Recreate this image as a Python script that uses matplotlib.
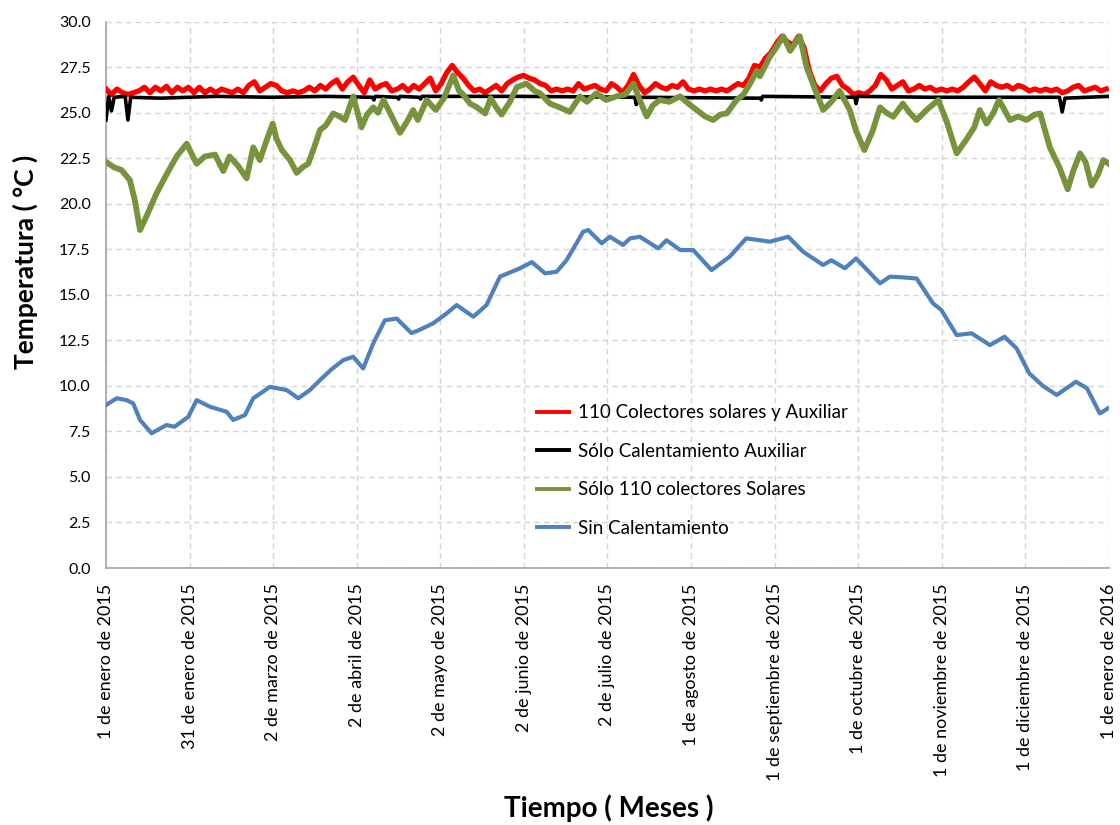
import numpy as np
import matplotlib
matplotlib.use("Agg")
import matplotlib.pyplot as plt
from matplotlib.ticker import FormatStrFormatter

plt.rcParams['font.family'] = ['Lato', 'DejaVu Sans']

# Monthly labels along the time axis (day of year 2015)
month_labels = ['1 de enero de 2015', '31 de enero de 2015', '2 de marzo de 2015',
                '2 de abril de 2015', '2 de mayo de 2015', '2 de junio de 2015',
                '2 de julio de 2015', '1 de agosto de 2015', '1 de septiembre de 2015',
                '1 de octubre de 2015', '1 de noviembre de 2015', '1 de diciembre de 2015',
                '1 de enero de 2016']

series_names = ['110 Colectores solares y Auxiliar', 'Sólo Calentamiento Auxiliar',
                'Sólo 110 colectores Solares', 'Sin Calentamiento']

# 110 collectors + auxiliary heating, every 2 days
red_days = np.arange(0, 365, 2)
red_temp = [26.3, 26.0, 26.3, 26.1, 26.0, 26.1,
            26.2, 26.4, 26.1, 26.4, 26.2, 26.45, 26.1, 26.4, 26.2, 26.4, 26.1,
            26.4, 26.1, 26.3, 26.1, 26.3, 26.2, 26.1, 26.3, 26.1,
            26.5, 26.7, 26.2, 26.4, 26.6, 26.5,
            26.2, 26.1, 26.2, 26.1, 26.2,
            26.4, 26.2, 26.5, 26.3, 26.6, 26.8, 26.3, 26.7, 26.95,
            26.5, 26.1, 26.8, 26.3, 26.5, 26.6, 26.2,
            26.3, 26.5, 26.2, 26.5, 26.3, 26.6, 26.9, 26.2, 26.6, 27.2,
            27.6, 27.2, 26.9, 26.5, 26.2, 26.3, 26.1, 26.3, 26.5, 26.2, 26.6, 26.8, 26.96,
            27.05, 26.9, 26.8, 26.6, 26.5, 26.2, 26.3, 26.2, 26.3, 26.2,
            26.6, 26.3, 26.4, 26.5, 26.3, 26.2, 26.6, 26.4, 26.1, 26.5,
            27.1, 26.5, 26.1, 26.3, 26.6, 26.4, 26.3, 26.5, 26.4, 26.7,
            26.3, 26.2, 26.3, 26.2, 26.3, 26.2, 26.3, 26.2, 26.4, 26.6,
            26.5, 26.9, 27.6, 27.5, 28.0, 28.3, 28.8, 29.2, 28.9, 28.7,
            29.2, 28.6, 27.3, 26.5, 26.2, 26.6,
            26.9, 27.0, 26.5, 26.3, 26.0, 26.1, 26.0, 26.2, 26.5,
            27.1, 26.8, 26.3, 26.5, 26.7, 26.2, 26.3, 26.5, 26.3, 26.4,
            26.2, 26.3, 26.2, 26.3, 26.2, 26.4, 26.7, 26.96, 26.6, 26.2,
            26.7, 26.5, 26.4, 26.5, 26.3, 26.5, 26.4, 26.2, 26.3, 26.2,
            26.3, 26.2, 26.3, 26.1, 26.2, 26.4, 26.5, 26.2, 26.3, 26.4, 26.2, 26.3]

# auxiliary heating only
black_days = [0, 1, 2, 3, 7, 8, 9, 20, 40, 60, 80, 97, 97.5, 98, 106, 106.5, 107,
              114, 114.5, 115, 150, 192.5, 193, 193.5, 238, 238.5, 239, 272.5, 273,
              273.5, 300, 347, 348, 349, 365]
black_temp = [24.6, 25.9, 25.1, 25.85, 25.9, 24.6, 25.85, 25.8, 25.9, 25.85, 25.9,
              25.85, 25.7, 25.9, 25.85, 25.75, 25.9, 25.85, 25.75, 25.9, 25.9, 25.85,
              25.45, 25.85, 25.8, 25.7, 25.9, 25.85, 25.5, 25.9, 25.85, 25.85, 25.05,
              25.8, 25.9]

# 110 solar collectors only
green_days = [0, 3, 5.7, 8.7, 10.5, 12.4, 15, 18.4, 22, 25.7, 29.4, 31, 33, 36, 39.7,
              42.7, 45, 48, 51.2, 53.6, 56, 58.5, 60.7, 62, 64, 67, 69.4, 71.5, 73.6,
              76, 77.9, 80, 82.7, 85, 87, 90, 93, 95, 97.3, 99, 101, 104, 107, 109.5,
              111.8, 113.5, 116.7, 120, 123, 126.4, 128.5, 130, 132.5, 135, 138, 140,
              142, 144, 147, 149.5, 153, 156, 158, 161.6, 165, 168.8, 172.5, 175,
              178.5, 182, 185.8, 189, 192, 194.5, 196.8, 199, 201.6, 205, 208.9, 212,
              215, 218, 221, 223.5, 225.9, 229.5, 232, 234.4, 236.8, 238, 241.6, 244,
              246.5, 249, 252.5, 255, 258, 261, 264, 267, 270.7, 273, 276, 279, 281.7,
              284, 286.5, 290, 292.5, 295, 298.6, 302.9, 306, 309.6, 313, 316, 318,
              320.5, 323, 325, 329, 332, 335, 338, 340, 343.5, 347, 350, 352, 354.5,
              356.5, 358.7, 361, 363, 365]
green_temp = [22.3, 22.0, 21.85, 21.3, 20.2, 18.56, 19.4, 20.57, 21.6, 22.6, 23.3, 22.8,
              22.2, 22.6, 22.7, 21.8, 22.6, 22.1, 21.4, 23.1, 22.4, 23.5, 24.4, 23.6,
              22.95, 22.4, 21.7, 22.0, 22.2, 23.2, 24.05, 24.3, 24.96, 24.8, 24.6, 25.9,
              24.2, 24.9, 25.3, 25.0, 25.7, 24.8, 23.9, 24.5, 25.15, 24.6, 25.7, 25.15,
              25.8, 27.05, 26.2, 26.0, 25.5, 25.3, 24.96, 25.8, 25.3, 24.9, 25.6, 26.4,
              26.6, 26.2, 26.07, 25.5, 25.3, 25.05, 25.9, 25.6, 26.07, 25.7, 25.9, 26.0,
              26.6, 25.6, 24.8, 25.4, 25.7, 25.6, 25.9, 25.5, 25.15, 24.8, 24.6, 24.9,
              24.96, 25.7, 26.0, 26.6, 27.3, 27.0, 28.07, 28.6, 29.2, 28.4, 29.2, 27.5,
              26.3, 25.15, 25.6, 26.2, 25.15, 24.0, 22.95, 24.0, 25.3, 25.0, 24.78, 25.5,
              25.0, 24.6, 25.15, 25.7, 24.5, 22.77, 23.5, 24.2, 25.15, 24.4, 25.0, 25.7,
              24.6, 24.8, 24.6, 24.9, 24.96, 23.1, 22.0, 20.8, 21.8, 22.77, 22.3, 21.0,
              21.6, 22.4, 22.2]

# no heating
blue_days = [0, 3.9, 7.5, 9.9, 12.4, 16.6, 22, 25, 30, 33, 37.8, 43.9, 46.3, 50.6, 53.6,
             59.7, 65.8, 70, 74.2, 77.9, 82, 86.4, 90, 93.6, 97.3, 101.5, 105.8, 111.2,
             114, 119, 124, 127.6, 133.7, 138.5, 143.4, 150.7, 155, 159.8, 164, 167.6,
             173.7, 175.5, 180.4, 183.4, 188.2, 190.7, 194.3, 201, 204, 209, 213.7,
             220.4, 227, 233, 238, 241.6, 248.3, 253.7, 261, 264, 268.9, 273, 281.7,
             285.3, 290, 295, 301, 304, 309.6, 315, 321.7, 327, 331.4, 336, 341, 346,
             353, 357, 361.7, 364.7]
blue_temp = [8.95, 9.32, 9.22, 9.04, 8.13, 7.4, 7.85, 7.76, 8.31, 9.22, 8.86, 8.58, 8.13,
             8.4, 9.32, 9.95, 9.77, 9.32, 9.77, 10.32, 10.9, 11.42, 11.6, 10.96, 12.34,
             13.6, 13.7, 12.9, 13.07, 13.43, 13.98, 14.44, 13.8, 14.44, 16.0, 16.46,
             16.8, 16.18, 16.27, 16.9, 18.47, 18.56, 17.83, 18.19, 17.74, 18.1, 18.19,
             17.55, 18.0, 17.46, 17.46, 16.36, 17.1, 18.1, 18.0, 17.92, 18.19, 17.37,
             16.64, 16.9, 16.46, 17.0, 15.63, 16.0, 15.96, 15.9, 14.53, 14.17, 12.79,
             12.89, 12.24, 12.7, 12.06, 10.69, 10.0, 9.5, 10.23, 9.87, 8.49, 8.77]

fig = plt.figure(figsize=(11.2, 8.25), dpi=100)
ax = fig.add_axes([0.0946, 0.3115, 0.8955, 0.6622])

ax.plot(red_days, red_temp, color='#ff0000', lw=3.8, label=series_names[0], zorder=3)
ax.plot(black_days, black_temp, color='#000000', lw=2.6, label=series_names[1], zorder=4)
ax.plot(green_days, green_temp, color='#77933c', lw=4.2, label=series_names[2], zorder=5)
ax.plot(blue_days, blue_temp, color='#4f81bd', lw=3.0, label=series_names[3], zorder=6)

ax.set_xlim(0, 365)
ax.set_ylim(0, 30)
ax.set_yticks(np.arange(0, 30.1, 2.5))
ax.yaxis.set_major_formatter(FormatStrFormatter('%.1f'))
ax.set_xticks(np.linspace(0, 365, 13))
ax.set_xticklabels(month_labels, rotation=90, fontsize=13)
ax.tick_params(axis='y', labelsize=11.5, length=0, pad=11)
ax.tick_params(axis='x', length=0, pad=11)

ax.grid(True, color='#d4d4d4', linestyle=(0, (4, 3)), linewidth=1.0)
ax.set_axisbelow(True)
for side in ['top', 'right']:
    ax.spines[side].set_visible(False)
for side in ['left', 'bottom']:
    ax.spines[side].set_color('#a6a6a6')
    ax.spines[side].set_linewidth(1.2)

# axis titles placed in figure pixels
fig.text(25 / 1120, 1 - 262 / 825, 'Temperatura ( °C )', rotation=90, fontsize=19,
         fontweight='bold', ha='center', va='center')
fig.text(609 / 1120, 1 - 808 / 825, 'Tiempo ( Meses )', fontsize=20,
         fontweight='bold', ha='center', va='center')

leg = ax.legend(loc='upper left', bbox_to_anchor=(0.43, 0.30), frameon=False,
                fontsize=13.5, handlelength=1.7, handletextpad=0.45, labelspacing=1.15,
                borderpad=0, borderaxespad=0)
for line in leg.get_lines():
    line.set_linewidth(2.8)

fig.savefig('out.png', dpi=100)
